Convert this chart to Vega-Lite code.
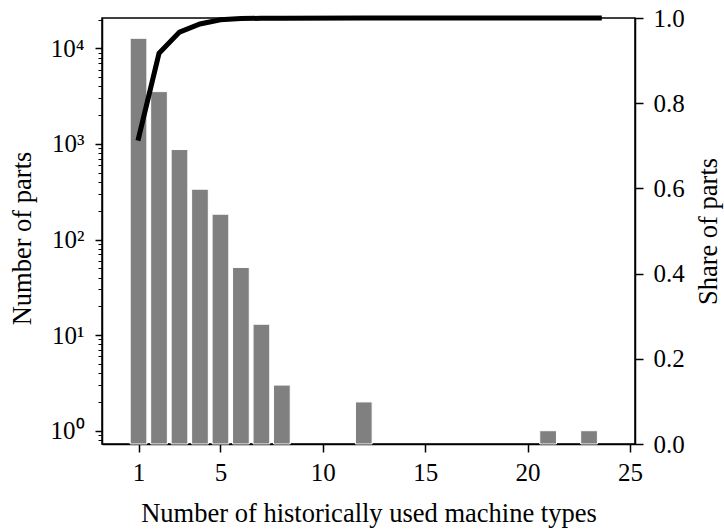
{
  "$schema": "https://vega.github.io/schema/vega-lite/v6.json",
  "autosize": "none",
  "padding": {"left": 102, "top": 18, "right": 89, "bottom": 85},
  "width": 533,
  "height": 426,
  "background": "white",
  "config": {
    "view": {"stroke": "black", "strokeWidth": 1.5},
    "axis": {
      "labelFont": "Liberation Serif",
      "titleFont": "Liberation Serif",
      "labelFontSize": 25,
      "titleFontSize": 26.5,
      "titleFontWeight": "normal",
      "labelColor": "black",
      "titleColor": "black",
      "domainColor": "black",
      "tickColor": "black",
      "domainWidth": 1.5,
      "tickWidth": 1.5,
      "grid": false
    }
  },
  "datasets": {
    "counts": [
      {"types": 1, "parts": 12730},
      {"types": 2, "parts": 3525},
      {"types": 3, "parts": 873},
      {"types": 4, "parts": 336},
      {"types": 5, "parts": 184},
      {"types": 6, "parts": 51},
      {"types": 7, "parts": 13},
      {"types": 8, "parts": 3},
      {"types": 12, "parts": 2},
      {"types": 21, "parts": 1},
      {"types": 23, "parts": 1}
    ],
    "share": [
      {"types": 1, "share": 0.718},
      {"types": 2, "share": 0.917},
      {"types": 3, "share": 0.967},
      {"types": 4, "share": 0.986},
      {"types": 5, "share": 0.996},
      {"types": 6, "share": 0.9986},
      {"types": 7, "share": 0.9994},
      {"types": 8, "share": 0.9995},
      {"types": 12, "share": 0.9998},
      {"types": 21, "share": 0.9999},
      {"types": 23.5, "share": 1.0}
    ]
  },
  "layer": [
    {
      "data": {"name": "counts"},
      "mark": {"type": "bar", "color": "#808080", "stroke": "white", "strokeWidth": 1, "width": 16.7},
      "encoding": {
        "x": {
          "field": "types",
          "type": "quantitative",
          "scale": {"domain": [-0.54, 25], "nice": false, "zero": false},
          "axis": {
            "values": [1, 5, 10, 15, 20, 25],
            "title": "Number of historically used machine types",
            "tickSize": 8,
            "labelPadding": 8,
            "titleY": 77,
            "titleBaseline": "alphabetic"
          }
        },
        "y": {
          "field": "parts",
          "type": "quantitative",
          "scale": {"type": "log", "domain": [0.726, 20750], "nice": false},
          "axis": {
            "orient": "left",
            "title": "Number of parts",
            "values": [0.8, 0.9, 1, 2, 3, 4, 5, 6, 7, 8, 9, 10, 20, 30, 40, 50, 60, 70, 80, 90, 100, 200, 300, 400, 500, 600, 700, 800, 900, 1000, 2000, 3000, 4000, 5000, 6000, 7000, 8000, 9000, 10000, 20000],
            "labelExpr": "datum.value == 1 ? '10⁰' : datum.value == 10 ? '10¹' : datum.value == 100 ? '10²' : datum.value == 1000 ? '10³' : datum.value == 10000 ? '10⁴' : ''",
            "tickSize": {"condition": {"test": "indexof([1,10,100,1000,10000], datum.value) >= 0", "value": 7}, "value": 4},
            "tickWidth": {"condition": {"test": "indexof([1,10,100,1000,10000], datum.value) >= 0", "value": 1.5}, "value": 1},
            "labelPadding": 11,
            "labelOverlap": false,
            "labelFlush": false,
            "titleAngle": 270,
            "titleX": -80,
            "titleY": 220,
            "titleAlign": "center",
            "titleBaseline": "middle"
          }
        },
        "y2": {"datum": 0.726}
      }
    },
    {
      "data": {"name": "share"},
      "mark": {"type": "line", "color": "black", "strokeWidth": 5, "strokeCap": "square"},
      "encoding": {
        "x": {"field": "types", "type": "quantitative"},
        "y": {
          "field": "share",
          "type": "quantitative",
          "scale": {"domain": [0, 1], "nice": false},
          "axis": {
            "orient": "right",
            "title": "Share of parts",
            "titleAngle": 270,
            "titleX": 73,
            "titleY": 213,
            "titleAlign": "center",
            "titleBaseline": "middle",
            "values": [0, 0.2, 0.4, 0.6, 0.8, 1.0],
            "format": ".1f",
            "tickSize": 8,
            "labelPadding": 10,
            "labelFlush": false
          }
        }
      }
    }
  ],
  "resolve": {"scale": {"y": "independent"}}
}
